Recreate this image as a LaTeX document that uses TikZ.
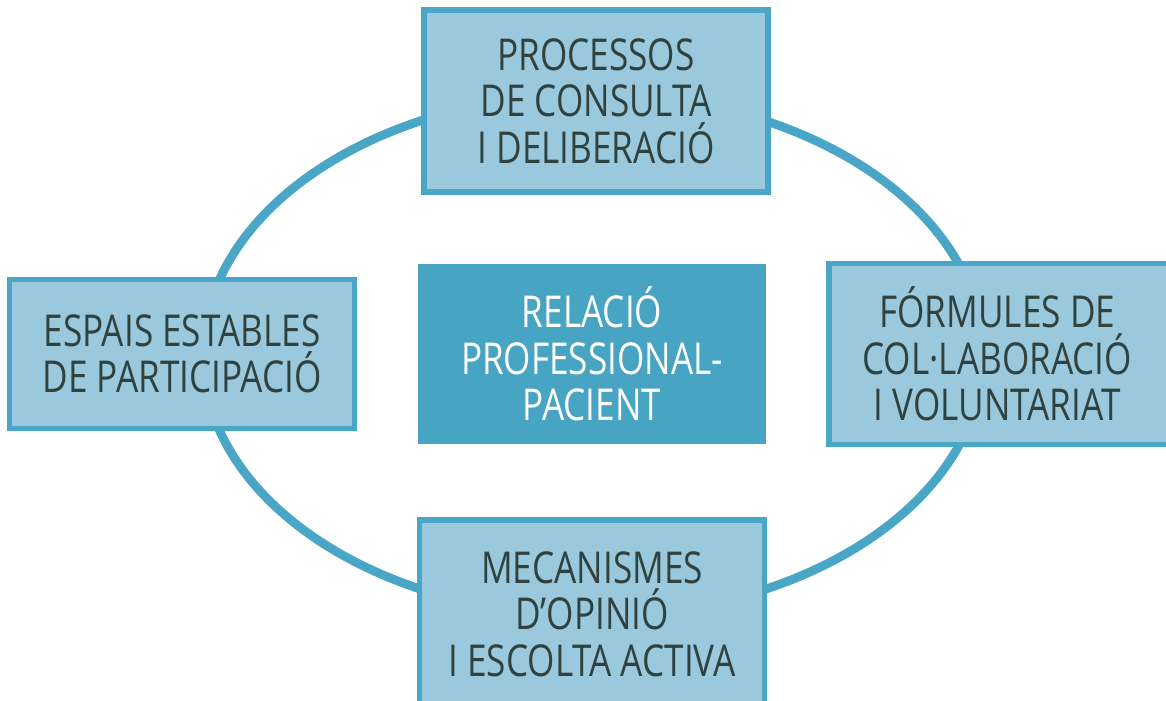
\documentclass[tikz,border=0pt]{standalone}
\usepackage{xcolor}
\usepackage{fontspec}
\setmainfont[FakeStretch=0.8]{Open Sans}
\definecolor{ring}{RGB}{74,166,198}
\definecolor{boxfill}{RGB}{154,201,222}
\definecolor{centre}{RGB}{71,164,194}
\definecolor{ink}{RGB}{48,66,62}
\tikzstyle{box}=[draw=ring, line width=3pt, fill=boxfill, text=ink, align=center, inner sep=0pt]
\tikzset{core/.style={fill=centre, text=white, align=center, inner sep=0pt}}
\tikzset{label font/.style={font=\fontsize{25}{26.4}\selectfont}}

\begin{document}
\begin{tikzpicture}[x=0.02cm, y=-0.02cm]
  \useasboundingbox (0,0) rectangle (1166,700);
  \fill[white] (0,0) rectangle (1166,700);
  \draw[ring, line width=5pt] (593,355) ellipse [x radius=390, y radius=261];

  \draw (596,101) node[box,label font,minimum width=6.88cm,minimum height=3.64cm] (consulta) {PROCESSOS\\DE CONSULTA\\I DELIBERACIÓ};
  \draw (182,354) node[box,label font,minimum width=6.9cm,minimum height=2.98cm] (espais) {ESPAIS ESTABLES\\DE PARTICIPACIÓ};
  \draw (1001,354) node[box,label font,minimum width=6.88cm,minimum height=3.62cm] (formules) {\hspace*{-0.15cm}FÓRMULES DE\\\hspace*{-0.15cm}COL·LABORACIÓ\\\hspace*{-0.15cm}I VOLUNTARIAT};
  \draw (592,614) node[box,label font,minimum width=6.9cm,minimum height=3.76cm] (mecanismes) {MECANISMES\\D’OPINIÓ\\I ESCOLTA ACTIVA};

  \draw (592,354) node[core,label font,minimum width=6.98cm,minimum height=3.62cm] (relacio) {RELACIÓ\\PROFESSIONAL-\\PACIENT};
\end{tikzpicture}
\end{document}
